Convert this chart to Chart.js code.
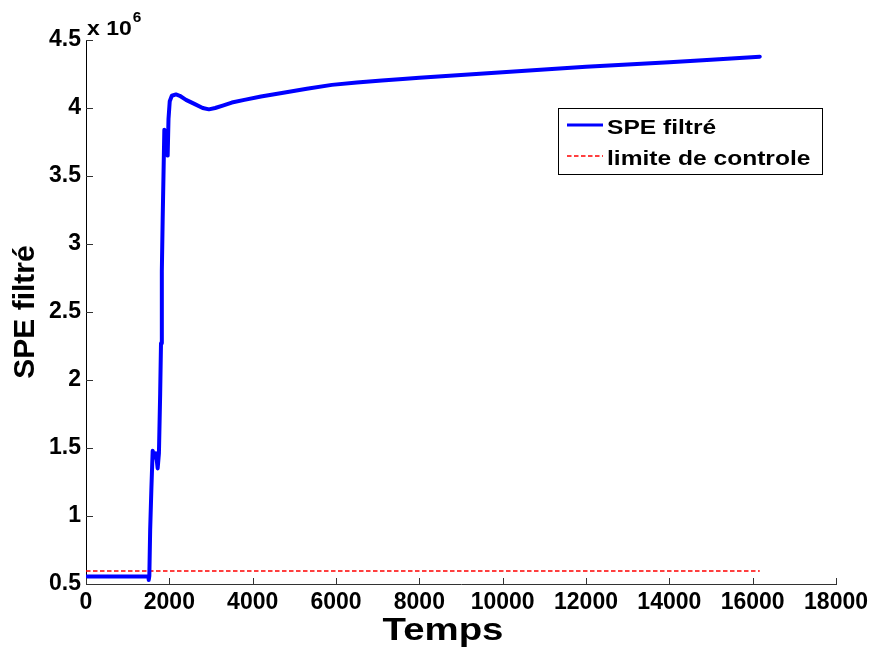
<!DOCTYPE html>
<html>
<head>
<meta charset="utf-8">
<script src="https://cdn.jsdelivr.net/npm/chart.js@4.4.1/dist/chart.umd.min.js"></script>
<style>
  html, body { margin: 0; padding: 0; background: #ffffff; }
  canvas { display: block; }
</style>
</head>
<body>
<canvas id="spe" width="873" height="647"></canvas>
<script>
// Temps (échantillons)
const temps = [0, 1500, 1505, 1520, 1540, 1570, 1600, 1640, 1680, 1720, 1750, 1780, 1800, 1820, 1840,
  1880, 1920, 1960, 1980, 2010, 2060, 2160, 2250, 2400, 2600, 2800, 2950, 3100, 3300, 3500, 3800,
  4200, 4700, 5300, 5900, 6500, 7100, 7600, 8000, 9000, 10000, 11000, 12000, 13000, 14000, 15000, 16170];
// SPE filtré, en unités de 10^6
const speFiltre = [0.555, 0.555, 0.53, 0.56, 0.9, 1.21, 1.48, 1.43, 1.46, 1.35, 1.46, 1.9, 2.27, 2.8, 3.18,
  3.84, 3.72, 3.65, 3.92, 4.05, 4.09, 4.10, 4.09, 4.06, 4.03, 4.0, 3.99, 4.0, 4.02, 4.04, 4.06,
  4.085, 4.11, 4.142, 4.17, 4.187, 4.203, 4.213, 4.222, 4.242, 4.262, 4.283, 4.303, 4.32, 4.336, 4.355, 4.377];
// Limite de contrôle (10^6) et son étendue en temps
const limiteControle = 0.595;
const limiteTemps = [0, 16170];

const xTicks = [0, 2000, 4000, 6000, 8000, 10000, 12000, 14000, 16000, 18000];
const yTicks = [0.5, 1, 1.5, 2, 2.5, 3, 3.5, 4, 4.5];
const yTickLabels = ['0.5', '1', '1.5', '2', '2.5', '3', '3.5', '4', '4.5'];
const exposant = '6';
const titreX = 'Temps';

const FONT = "'Liberation Sans', Arial, Helvetica, sans-serif";

// texte étiré horizontalement (rendu type MATLAB)
function drawText(ctx, text, x, y, size, stretch, align) {
  ctx.save();
  ctx.font = 'bold ' + size + 'px ' + FONT;
  ctx.textBaseline = 'alphabetic';
  ctx.textAlign = 'left';
  const w = ctx.measureText(text).width * stretch;
  let x0 = x;
  if (align === 'center') x0 = x - w / 2;
  if (align === 'right') x0 = x - w;
  ctx.translate(x0, y);
  ctx.scale(stretch, 1);
  ctx.fillText(text, 0, 0);
  ctx.restore();
  return w;
}

// graduations intérieures, multiplicateur de l'axe y, titre x et légende
const decorations = {
  id: 'decorations',
  afterDraw(chart) {
    const ctx = chart.ctx;
    const area = chart.chartArea;
    const xs = chart.scales.x, ys = chart.scales.y;

    ctx.save();
    ctx.strokeStyle = '#333333';
    ctx.lineWidth = 1;
    xs.ticks.forEach(t => {
      const px = Math.round(xs.getPixelForValue(t.value)) + 0.5;
      ctx.beginPath();
      ctx.moveTo(px, area.bottom);
      ctx.lineTo(px, area.bottom - 6);
      ctx.stroke();
    });
    ys.ticks.forEach(t => {
      const py = Math.round(ys.getPixelForValue(t.value)) + 0.5;
      ctx.beginPath();
      ctx.moveTo(area.left, py);
      ctx.lineTo(area.left + 7, py);
      ctx.stroke();
    });
    ctx.restore();

    ctx.save();
    ctx.fillStyle = '#000000';
    // x 10^6
    const w = drawText(ctx, 'x 10', area.left + 1, area.top - 5, 20, 1.15, 'left');
    drawText(ctx, exposant, area.left + 2 + w, area.top - 18, 14, 1.1, 'left');
    // titre de l'axe des temps
    drawText(ctx, titreX, area.left + 357, area.bottom + 56, 32, 1.2, 'center');
    ctx.restore();

    // légende
    const lx = area.left + 472, ly = area.top + 68, lw = 264, lh = 66;
    ctx.save();
    ctx.fillStyle = '#ffffff';
    ctx.fillRect(lx, ly, lw, lh);
    ctx.strokeStyle = '#000000';
    ctx.lineWidth = 1;
    ctx.strokeRect(lx + 0.5, ly + 0.5, lw, lh);
    const rows = [ly + 17, ly + 48];
    chart.data.datasets.forEach((ds, i) => {
      const y = rows[i];
      ctx.save();
      ctx.strokeStyle = ds.borderColor;
      ctx.lineWidth = i === 0 ? 3 : 1.5;
      ctx.setLineDash(ds.borderDash || []);
      ctx.beginPath();
      ctx.moveTo(lx + 9, y);
      ctx.lineTo(lx + 45, y);
      ctx.stroke();
      ctx.restore();
      ctx.fillStyle = '#000000';
      drawText(ctx, ds.label, lx + 49, y + 9, 21, 1.17, 'left');
    });
    ctx.restore();
  }
};

const speData = temps.map((t, i) => ({ x: t, y: speFiltre[i] }));
const limiteData = limiteTemps.map(t => ({ x: t, y: limiteControle }));

new Chart(document.getElementById('spe'), {
  type: 'line',
  data: {
    datasets: [
      {
        label: 'SPE filtré',
        data: speData,
        borderColor: '#0000ff',
        borderWidth: 4,
        pointRadius: 0,
        tension: 0,
        fill: false,
        borderJoinStyle: 'round',
        borderCapStyle: 'round'
      },
      {
        label: 'limite de controle',
        data: limiteData,
        borderColor: '#ff0000',
        borderWidth: 1.5,
        borderDash: [4.5, 2.5],
        pointRadius: 0,
        fill: false
      }
    ]
  },
  options: {
    responsive: false,
    animation: false,
    devicePixelRatio: 1,
    layout: { padding: { left: 0, right: 36, top: 40, bottom: 0 } },
    plugins: {
      legend: { display: false },
      tooltip: { enabled: false }
    },
    scales: {
      x: {
        type: 'linear',
        min: 0,
        max: 18000,
        afterBuildTicks: s => { s.ticks = xTicks.map(v => ({ value: v })); },
        afterFit: s => { s.height = 63; },
        grid: { display: false, drawTicks: false },
        border: { display: true, color: '#333333', width: 1 },
        ticks: {
          padding: 5,
          maxRotation: 0,
          autoSkip: false,
          color: '#000000',
          font: { family: FONT, size: 23, weight: 'bold' },
          callback: v => String(v)
        },
        title: { display: false }
      },
      y: {
        type: 'linear',
        min: 0.5,
        max: 4.5,
        afterBuildTicks: s => { s.ticks = yTicks.map(v => ({ value: v })); },
        afterFit: s => { s.width = 86; },
        grid: { display: false, drawTicks: false },
        border: { display: true, color: '#000000', width: 1 },
        ticks: {
          padding: 5,
          autoSkip: false,
          color: '#000000',
          font: { family: FONT, size: 23, weight: 'bold' },
          callback: v => yTickLabels[yTicks.indexOf(v)]
        },
        title: {
          display: true,
          text: 'SPE filtré',
          color: '#000000',
          font: { family: FONT, size: 30, weight: 'bold', lineHeight: 1 },
          padding: { top: 11, bottom: 0 }
        }
      }
    }
  },
  plugins: [decorations]
});
</script>
</body>
</html>
